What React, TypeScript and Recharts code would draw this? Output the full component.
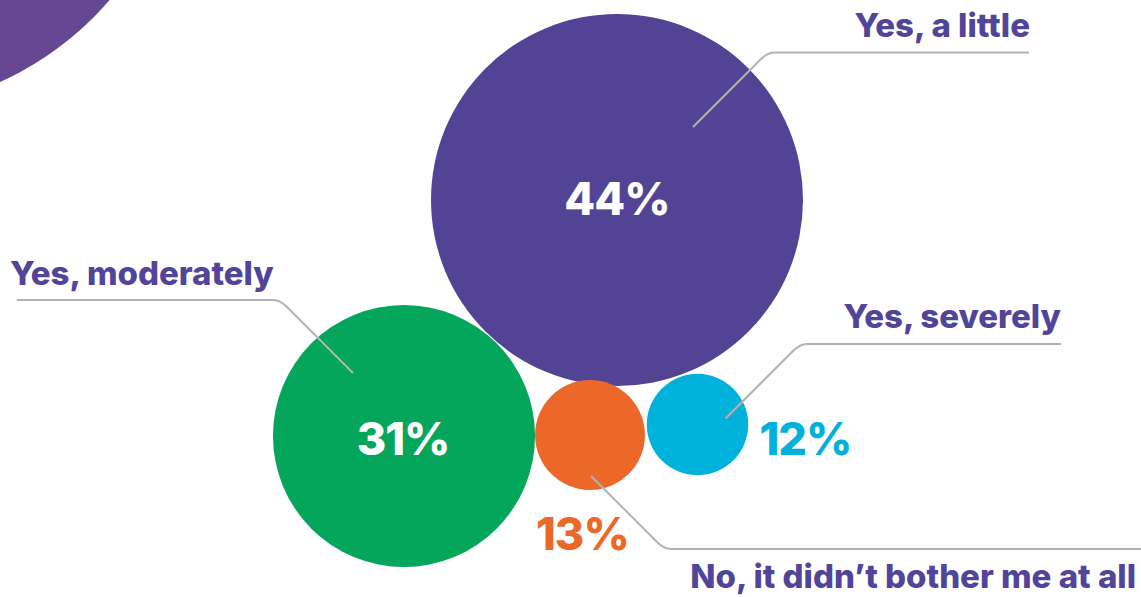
import React from 'react'
import { ScatterChart, Scatter, XAxis, YAxis, ZAxis, Cell } from 'recharts'

// 调查结果：气泡半径与百分比成正比
const categories = ['Yes, a little', 'Yes, moderately', 'No, it didn\u2019t bother me at all', 'Yes, severely']
const values = [44, 31, 13, 12]
const colors = ['#524394', '#03a65b', '#ec6829', '#00b1dc']

// 气泡圆心布局（坐标轴单位 = 像素）
const bubbleX = [617, 404, 590, 697.5]
const bubbleY = [200, 436, 435, 424.5]

const W = 1141
const H = 597
const MAX_R = 186
const LABEL = '#51459a'
const LEADER = '#b3b3b3'
const FONT = 'Inter, "Noto Sans", sans-serif'

// 引导线与文字的相对摆放：inner 为圆心偏移，elbowY 为水平线高度，endX 为水平线终点
const leaders = [
  { inner: [76, -73], dir: 1, elbowY: 52.5, endX: 1029, labelX: 1030, labelY: 37, anchor: 'end', pct: [0, 15], pctAnchor: 'middle', pctColor: '#fff' },
  { inner: [-51, -63], dir: -1, elbowY: 300, endX: 17, labelX: 10, labelY: 285, anchor: 'start', pct: [-1, 19], pctAnchor: 'middle', pctColor: '#fff' },
  { inner: [1, 41], dir: 1, elbowY: 549, endX: 1141, labelX: 1136, labelY: 588, anchor: 'end', pct: [-54, 115], pctAnchor: 'start', pctColor: '#ec6829' },
  { inner: [28, -6], dir: 1, elbowY: 344, endX: 1061, labelX: 1061, labelY: 328, anchor: 'end', pct: [62, 30], pctAnchor: 'start', pctColor: '#00b1dc' },
]

const data = values.map((v, i) => ({ name: categories[i], value: v, z: v * v, x: bubbleX[i], y: bubbleY[i] }))

const Bubble = (props: any) => {
  const { cx, cy, width, fill, index } = props
  const i = typeof index === 'number' ? index : data.findIndex((d) => d.name === props.payload?.name)
  const r = width / 2
  const l = leaders[i]
  const x0 = cx + l.inner[0]
  const y0 = cy + l.inner[1]
  const dy = l.elbowY - y0
  const ex = x0 + l.dir * Math.abs(dy)
  const c = 7
  const sy = Math.sign(dy)
  const path = `M${x0},${y0} L${ex - l.dir * c},${l.elbowY - sy * c} Q${ex},${l.elbowY} ${ex + l.dir * c},${l.elbowY} L${l.endX},${l.elbowY}`
  return (
    <g>
      <circle cx={cx} cy={cy} r={r} fill={fill} />
      <text
        x={cx + l.pct[0]}
        y={cy + l.pct[1]}
        textAnchor={l.pctAnchor}
        fill={l.pctColor}
        fontFamily={FONT}
        fontWeight={800}
        fontSize={45}
        letterSpacing={-1}
      >
        {`${values[i]}%`}
      </text>
      <path d={path} fill="none" stroke={LEADER} strokeWidth={2} />
      <text x={l.labelX} y={l.labelY} textAnchor={l.anchor} fill={LABEL} fontFamily={FONT} fontWeight={800} fontSize={33}>
        {categories[i]}
      </text>
    </g>
  )
}

export default function App() {
  return (
    <div style={{ position: 'absolute', left: 0, top: 0, width: W, height: H, overflow: 'hidden', background: '#fff' }}>
      <div
        style={{
          position: 'absolute',
          left: -130 - 316,
          top: -206 - 316,
          width: 632,
          height: 632,
          borderRadius: '50%',
          background: '#664892',
        }}
      />
      <div style={{ position: 'absolute', left: 0, top: 0 }}>
        <ScatterChart width={W} height={H} margin={{ top: 0, right: 0, bottom: 0, left: 0 }}>
          <XAxis hide type="number" dataKey="x" domain={[0, W]} />
          <YAxis hide type="number" dataKey="y" domain={[0, H]} reversed />
          <ZAxis type="number" dataKey="z" domain={[0, 44 * 44]} range={[0, Math.PI * MAX_R * MAX_R]} />
          <Scatter data={data} shape={Bubble} isAnimationActive={false}>
            {data.map((d, i) => (
              <Cell key={d.name} fill={colors[i]} />
            ))}
          </Scatter>
        </ScatterChart>
      </div>
    </div>
  )
}
